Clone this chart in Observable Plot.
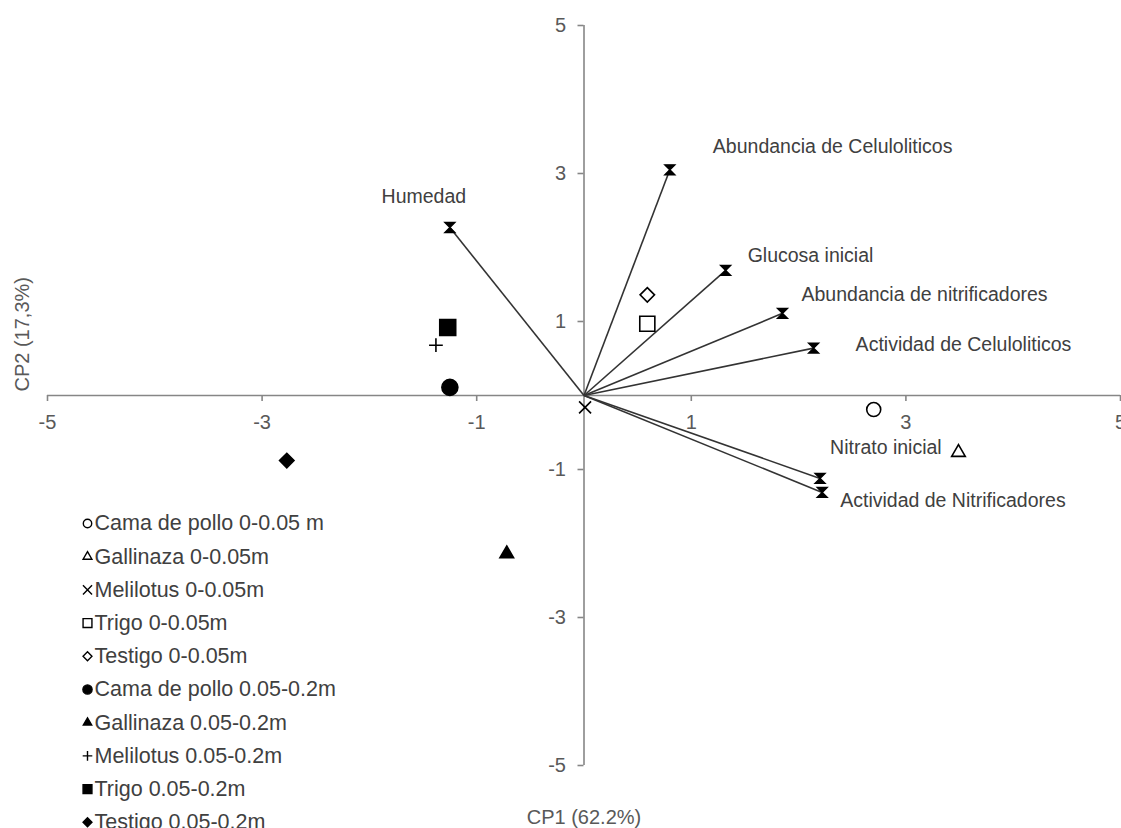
<!DOCTYPE html>
<html><head><meta charset="utf-8">
<script src="https://cdn.jsdelivr.net/npm/d3@7"></script>
<script src="https://cdn.jsdelivr.net/npm/@observablehq/plot@0.6"></script>
<style>html,body{margin:0;padding:0;background:#fff;overflow:hidden}</style>
</head><body><div id="chart"></div>
<script>
// ---- data ----
const seriesNames = [
  "Cama de pollo 0-0.05 m",
  "Gallinaza 0-0.05m",
  "Melilotus 0-0.05m",
  "Trigo 0-0.05m",
  "Testigo 0-0.05m",
  "Cama de pollo 0.05-0.2m",
  "Gallinaza 0.05-0.2m",
  "Melilotus 0.05-0.2m",
  "Trigo 0.05-0.2m",
  "Testigo 0.05-0.2m"
];
const scoreX = [2.70, 3.49, 0.01, 0.59, 0.59, -1.25, -0.72, -1.38, -1.27, -2.77];
const scoreY = [-0.19, -0.77, -0.16, 0.97, 1.36, 0.11, -2.14, 0.68, 0.92, -0.88];

const variableNames = [
  "Humedad",
  "Abundancia de Celuloliticos",
  "Glucosa inicial",
  "Abundancia de nitrificadores",
  "Actividad de Celuloliticos",
  "Nitrato inicial",
  "Actividad de Nitrificadores"
];
const loadX = [-1.25, 0.80, 1.32, 1.85, 2.14, 2.20, 2.22];
const loadY = [2.27, 3.05, 1.69, 1.11, 0.64, -1.12, -1.31];

const xTicks = [-5, -3, -1, 1, 3, 5];
const yTicks = [-5, -3, -1, 1, 3, 5];
const xTitle = "CP1 (62.2%)";
const yTitle = "CP2 (17,3%)";

// ---- styles ----
const FONT = "'Liberation Sans', Arial, sans-serif";
const axisColor = "#868686";
const tickColor = "#595959";
const labelColor = "#404040";
const seriesStyle = [
  {symbol: "circle", fill: "white", r: 7, lr: 4.2},
  {symbol: "triangle2", fill: "white", r: 6.5, lr: 4.2},
  {symbol: "times", fill: "none", r: 5.5, lr: 4.2},
  {symbol: "square", fill: "white", r: 8.5, lr: 5},
  {symbol: "diamond2", fill: "white", r: 6.5, lr: 4},
  {symbol: "circle", fill: "black", r: 8, lr: 4.6},
  {symbol: "triangle2", fill: "black", r: 6.5, lr: 4},
  {symbol: "plus", fill: "none", r: 4.5, lr: 3.2},
  {symbol: "square", fill: "black", r: 9, lr: 5},
  {symbol: "diamond2", fill: "black", r: 6.5, lr: 4}
];
const labelStyle = [
  {dx: -26, dy: -31, anchor: "middle"},
  {dx: 43, dy: -23, anchor: "start"},
  {dx: 22, dy: -15, anchor: "start"},
  {dx: 19, dy: -19, anchor: "start"},
  {dx: 42, dy: -3, anchor: "start"},
  {dx: 10, dy: -31, anchor: "start"},
  {dx: 18, dy: 8, anchor: "start"}
];
const hourglass = {
  draw(ctx, size) {
    const h = Math.sqrt(size) / 2;
    ctx.moveTo(-h, -h); ctx.lineTo(h, -h); ctx.lineTo(-h, h); ctx.lineTo(h, h); ctx.closePath();
  }
};

const scores = seriesNames.map((name, i) => ({name, x: scoreX[i], y: scoreY[i], i}));
const loadings = variableNames.map((name, i) => ({name, x: loadX[i], y: loadY[i], i}));

const marks = [
  Plot.ruleY([0], {x1: -5, x2: 5, stroke: axisColor, strokeWidth: 1.6}),
  Plot.ruleX([0], {y1: -5, y2: 5, stroke: axisColor, strokeWidth: 1.6}),
  Plot.ruleX(xTicks, {x: d => d, y1: 0, y2: 0, insetBottom: -6, stroke: axisColor, strokeWidth: 1.6}),
  Plot.ruleY(yTicks, {y: d => d, x1: 0, x2: 0, insetLeft: -6, stroke: axisColor, strokeWidth: 1.6}),
  Plot.text(xTicks, {x: d => d, y: 0, text: d => String(d), dy: 27, fontSize: 20, fill: tickColor, fontFamily: FONT}),
  Plot.text(yTicks, {x: 0, y: d => d, text: d => String(d), dx: -18, textAnchor: "end", fontSize: 20, fill: tickColor, fontFamily: FONT}),
  Plot.text([xTitle], {frameAnchor: "bottom", text: d => d, dy: 52, lineAnchor: "middle", fontSize: 20, fill: tickColor, fontFamily: FONT}),
  Plot.text([yTitle], {frameAnchor: "left", text: d => d, dx: -25, dy: -4, rotate: -90, fontSize: 20, fill: tickColor, fontFamily: FONT}),
  Plot.link(loadings, {x1: 0, y1: 0, x2: "x", y2: "y", stroke: "#333333", strokeWidth: 1.6}),
  Plot.dot(loadings, {x: "x", y: "y", symbol: hourglass, r: 5.6, fill: "black", stroke: "black", strokeWidth: 1.4})
];
loadings.forEach((d, i) => {
  const s = labelStyle[i];
  marks.push(Plot.text([d], {x: "x", y: "y", text: "name", dx: s.dx, dy: s.dy, textAnchor: s.anchor,
    fontSize: 19.5, fill: labelColor, fontFamily: FONT}));
});
scores.forEach((d, i) => {
  const s = seriesStyle[i];
  marks.push(Plot.dot([d], {x: "x", y: "y", symbol: s.symbol, r: s.r, fill: s.fill, stroke: "black", strokeWidth: 1.6}));
});
// legend (inside the SVG, anchored to the frame's top-left corner)
seriesNames.forEach((name, i) => {
  const s = seriesStyle[i];
  const dy = 498 + 33.2 * i;
  marks.push(Plot.dot([name], {frameAnchor: "top-left", dx: 40, dy, symbol: s.symbol, r: s.lr, fill: s.fill, stroke: "black", strokeWidth: 1.4}));
  marks.push(Plot.text([name], {frameAnchor: "top-left", dx: 47, dy, text: d => d, textAnchor: "start", lineAnchor: "middle",
    fontSize: 21.5, fill: labelColor, fontFamily: FONT}));
});

const chart = Plot.plot({
  width: 1121,
  height: 828,
  marginLeft: 47,
  marginRight: 1,
  marginTop: 25,
  marginBottom: 63,
  x: {domain: [-5, 5], axis: null},
  y: {domain: [-5, 5], axis: null},
  style: {background: "white", fontFamily: FONT},
  marks
});
document.getElementById("chart").appendChild(chart);
</script>
</body></html>
